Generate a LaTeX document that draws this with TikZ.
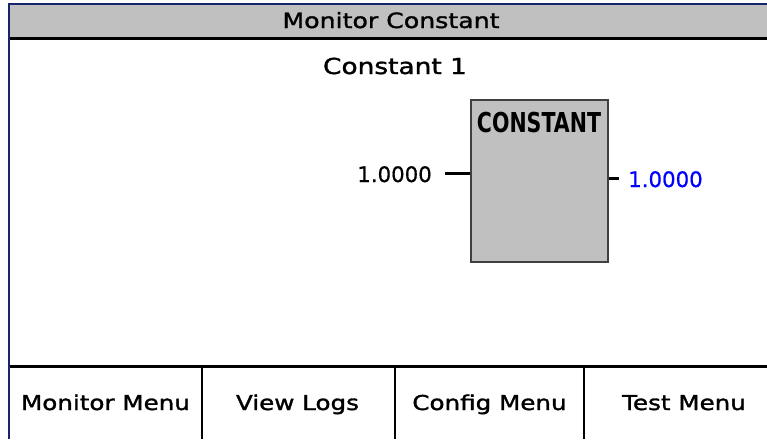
\documentclass[tikz,border=0pt]{standalone}
\usepackage{fontspec}
\setmainfont{DejaVu Sans}[FakeStretch=1.2, FakeBold=1.5]
\newfontfamily\numfont{DejaVu Sans}[FakeBold=0.6]
\newfontfamily\blockfont{DejaVu Sans}[FakeStretch=0.75]
\usepackage{tikz}
\usetikzlibrary{positioning}
\usetikzlibrary{calc}

\definecolor{framecol}{RGB}{22,38,108}
\definecolor{panelgray}{RGB}{192,192,192}
\definecolor{valblue}{RGB}{0,0,255}

\begin{document}
\begin{tikzpicture}[
    x=1pt, y=-1pt,
    lbl/.style={anchor=base, inner sep=0pt, font=\fontsize{20.5}{24}\selectfont},
    num/.style={anchor=base, inner sep=0pt, font=\numfont\fontsize{21.3}{24}\selectfont},
    wire/.style={line width=3pt},
    rule/.style={line width=3pt, black},
    divider/.style={line width=2.5pt, black}
]

    % Frame
    \useasboundingbox (0,0) rectangle (767,439);
    \fill[white] (0,0) rectangle (767,439);
    \fill[panelgray] (9,4) rectangle (767,37);
    \draw[framecol, line width=1.8pt] (767,4) -- (9,4) -- (9,439);
    \draw[rule] (10,38.5) -- (767,38.5);
    \draw[rule] (10,366.7) -- (767,366.7);

    % Title
    \node[lbl, font=\fontsize{21}{24}\selectfont] (title) at (391,28) {Monitor Constant};
    \node[lbl, font=\fontsize{22}{24}\selectfont] (blockname) at (395,74) {Constant 1};

    % Block
    \node[
        draw=black!75,
        fill=panelgray,
        line width=1.4pt,
        minimum width=137pt,
        minimum height=162pt,
        inner sep=0pt
    ] (const) at (539.5,181) {};
    \node[anchor=base, inner sep=0pt, font=\blockfont\bfseries\fontsize{27.4}{30}\selectfont] (consttitle) at (539,132) {CONSTANT};

    % Input
    \node[num, anchor=base east] (inval) at (432,182) {1.0000};
    \coordinate (in1) at (445,173);
    \draw[wire] (in1) -- (in1 -| const.west);

    % Output
    \coordinate (out1) at (619,178);
    \draw[wire] (out1 -| const.east) -- (out1);
    \node[num, anchor=base west, text=valblue] (outval) at (628,187) {1.0000};

    % Buttons
    \draw[divider] (202,366.7) -- (202,439);
    \draw[divider] (395,366.7) -- (395,439);
    \draw[divider] (584,366.7) -- (584,439);

    \node[lbl] (btnmonitor) at (105.5,410) {Monitor Menu};
    \node[lbl] (btnlogs) at (297.5,410) {View Logs};
    \node[lbl] (btnconfig) at (489.5,410) {Config Menu};
    \node[lbl] (btntest) at (684,410) {Test Menu};

\end{tikzpicture}
\end{document}
